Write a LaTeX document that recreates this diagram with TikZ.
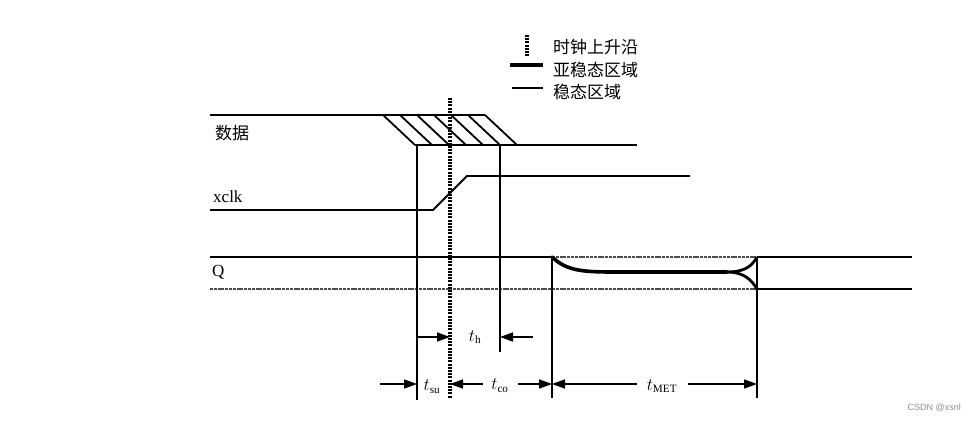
\documentclass[tikz,border=0pt]{standalone}
\usepackage{fontspec}
\setmainfont{Liberation Serif}
\newfontfamily\cjk{Noto Sans CJK SC}
\newfontfamily\wmfont{Liberation Sans}
\usetikzlibrary{arrows.meta}
\begin{document}
\begin{tikzpicture}[
  x=1pt, y=-1pt,
  wave/.style={line width=1.8pt},
  faint/.style={line width=1.6pt, black!70, dash pattern=on 3pt off 0.8pt},
  meta/.style={line width=3.6pt, line cap=round},
  clock/.style={line width=3.6pt, dash pattern=on 2pt off 1.2pt},
  guide/.style={line width=1.7pt},
  dim/.style={line width=1.6pt, -{Triangle[length=13pt,width=9pt]}},
  label/.style={font=\fontsize{17}{20}\selectfont, anchor=west, inner sep=0pt},
  tlabel/.style={font=\fontsize{16}{18}\selectfont, inner sep=0pt}
]
\useasboundingbox (0,0) rectangle (977,422);

% Legend
\draw[clock] (527,35) coordinate (lgA) -- (527,57) coordinate (lgB);
\draw[meta, line cap=butt] (510,65) coordinate (lgC) -- (543,65) coordinate (lgD);
\draw[guide] (512,88) coordinate (lgE) -- (543,88) coordinate (lgF);
\node[label] (lgclk) at (553,47) {\cjk 时钟上升沿};
\node[label] (lgmeta) at (553,70) {\cjk 亚稳态区域};
\node[label] (lgstable) at (553,92) {\cjk 稳态区域};

% Data signal
\node[label] (data) at (215,133) {\cjk 数据};
\coordinate (dA) at (210,115);
\coordinate (dB) at (485,115);
\coordinate (dC) at (415,145);
\coordinate (dD) at (637,145);
\draw[wave] (dA) -- (dB);
\draw[wave] (dC) -- (dD);
\foreach \k in {0,...,6}
  \draw[wave] (383+17*\k,115) -- (415+17*\k,145);

% xclk signal
\node[label] (xclk) at (213,197) {xclk};
\coordinate (cA) at (210,210);
\coordinate (cB) at (433,210);
\coordinate (cC) at (467,176);
\coordinate (cD) at (690,176);
\draw[wave] (cA) -- (cB) -- (cC) -- (cD);

% Q output
\node[label] (q) at (212,272) {Q};
\coordinate (qA) at (210,257);
\coordinate (qB) at (552,257);
\coordinate (qC) at (757,257);
\coordinate (qD) at (912,257);
\coordinate (qE) at (210,289);
\coordinate (qF) at (757,289);
\coordinate (qG) at (912,289);
\draw[wave] (qA) -- (qB);
\draw[faint] (qB) -- (qC);
\draw[faint] (qE) -- (qF);
\draw[wave] (qC) -- (qD);
\draw[wave] (qF) -- (qG);
\coordinate (mA) at (612,272);
\coordinate (mB) at (727,272);
\draw[meta] (qB) .. controls (566,270) and (580,272) .. (mA) -- (mB);
\draw[line width=2.8pt] (mB) .. controls (745,272) and (752,266) .. (qC);
\draw[line width=2.8pt] (mB) .. controls (745,272) and (752,281) .. (qF);

% timing guides
\coordinate (su) at (417,145);
\coordinate (suEnd) at (417,400);
\coordinate (hd) at (500,145);
\coordinate (hdEnd) at (500,352);
\coordinate (co) at (552,398);
\coordinate (met) at (757,398);
\draw[guide] (su) -- (suEnd);
\draw[guide] (hd) -- (hdEnd);
\draw[guide] (qB) -- (co);
\draw[guide] (qC) -- (met);
\coordinate (clkTop) at (450,98);
\coordinate (clkEnd) at (450,398);
\draw[clock] (clkTop) -- (clkEnd);

% dimension arrows
\coordinate (rowA) at (0,337);
\coordinate (rowB) at (0,384);
\coordinate (thL) at (417,337);
\coordinate (thR) at (533,337);
\draw[dim] (thL) -- (clkTop |- rowA);
\draw[dim] (thR) -- (hd |- rowA);
\node[tlabel] (th) at (475,337) {$t_{\mathrm{h}}$};

\coordinate (suL) at (380,384);
\coordinate (coL) at (483,384);
\coordinate (coR) at (518,384);
\coordinate (metL) at (637,384);
\coordinate (metR) at (688,384);
\draw[dim] (suL) -- (su |- rowB);
\draw[dim] (coL) -- (clkTop |- rowB);
\draw[dim] (coR) -- (qB |- rowB);
\draw[dim] (metL) -- (qB |- rowB);
\draw[dim] (metR) -- (qC |- rowB);
\node[tlabel] (tsu) at (432,387) {$t_{\mathrm{su}}$};
\node[tlabel] (tco) at (500,386) {$t_{\mathrm{co}}$};
\node[tlabel] (tmet) at (662,386) {$t_{\mathrm{MET}}$};

% watermark
\node[font=\wmfont\fontsize{9}{10}\selectfont, text=black!45, anchor=east, inner sep=0pt] (wm) at (961,408) {CSDN @xsnl};
\end{tikzpicture}
\end{document}
